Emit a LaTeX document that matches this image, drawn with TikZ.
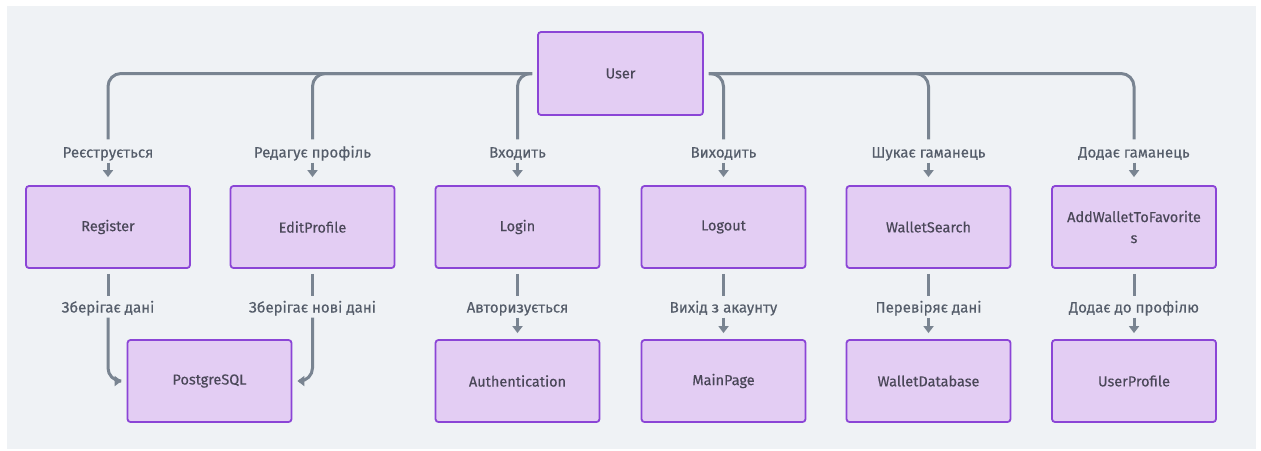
\documentclass[tikz,border=0pt]{standalone}
\usepackage{fontspec}
\setmainfont{Fira Sans}[FakeBold=0.35]
\usetikzlibrary{arrows.meta}
\definecolor{bgc}{HTML}{EFF2F5}
\definecolor{boxfill}{HTML}{E3CDF3}
\definecolor{boxline}{HTML}{8B45D6}
\definecolor{linec}{HTML}{798491}
\definecolor{boxtext}{HTML}{4A4758}
\definecolor{labtext}{HTML}{555D6A}
\tikzset{
  box/.style={draw=boxline, fill=boxfill, line width=1.8pt, rounded corners=3pt,
    minimum width=164pt, minimum height=82pt, align=center, text=boxtext,
    font=\fontsize{14.5}{21}\selectfont, inner sep=2pt},
  lab/.style={text=labtext, font=\fontsize{15}{17}\selectfont, inner ysep=0pt, inner xsep=2pt,
    text height=11pt, text depth=3pt},
  conn/.style={draw=linec, line width=3pt, rounded corners=13pt},
  arr/.style={conn, -{Triangle[width=10pt,length=7pt]}},
}
\begin{document}
\begin{tikzpicture}[x=1pt,y=-1pt]
\useasboundingbox (0,0) rectangle (1261,450);
\fill[white] (0,0) rectangle (1261,450);
\fill[bgc] (7,6) rectangle (1256,449);
% top
\node[box, minimum width=165pt, minimum height=83pt] (U) at (620.5,73.5) {User};
% row 1
\node[box] (R) at (108,227) {Register};
\node[box] (E) at (312.5,227) {EditProfile};
\node[box] (L) at (517.5,227) {Login};
\node[box] (O) at (723.5,227) {Logout};
\node[box] (W) at (928.5,227) {WalletSearch};
\node[box] (A) at (1134,227) {AddWalletToFavorite\\s};
% row 2
\node[box] (P) at (209.5,381) {PostgreSQL};
\node[box] (Au) at (517.5,381) {Authentication};
\node[box] (M) at (723.5,381) {MainPage};
\node[box] (WD) at (928.5,381) {WalletDatabase};
\node[box] (UP) at (1134,381) {UserProfile};
% labels row 1
\node[lab, anchor=base] (l1) at (108,157.5) {Реєструється};
\node[lab, anchor=base] (l2) at (312.5,157.5) {Редагує профіль};
\node[lab, anchor=base] (l3) at (517.5,157.5) {Входить};
\node[lab, anchor=base] (l4) at (723.5,157.5) {Виходить};
\node[lab, anchor=base] (l5) at (928.5,157.5) {Шукає гаманець};
\node[lab, anchor=base] (l6) at (1134,157.5) {Додає гаманець};
% labels row 2
\node[lab, anchor=base] (m1) at (108,312.5) {Зберігає дані};
\node[lab, anchor=base] (m2) at (312.5,312.5) {Зберігає нові дані};
\node[lab, anchor=base] (m3) at (517.5,312.5) {Авторизується};
\node[lab, anchor=base] (m4) at (723.5,312.5) {Вихід з акаунту};
\node[lab, anchor=base] (m5) at (928.5,312.5) {Перевіряє дані};
\node[lab, anchor=base] (m6) at (1134,312.5) {Додає до профілю};
% User to labels
\foreach \l in {l1,l2,l3}{
  \draw[conn, shorten <=5pt, shorten >=7pt] (U.west) -| (\l.north);
}
\foreach \l in {l4,l5,l6}{
  \draw[conn, shorten <=5pt, shorten >=7pt] (U.east) -| (\l.north);
}
% labels to row 1
\foreach \l/\b in {l1/R,l2/E,l3/L,l4/O,l5/W,l6/A}{
  \draw[arr, shorten <=2pt, shorten >=8pt] (\l.south) -- (\l.south |- \b.north);
}
% row 1 to labels row 2
\foreach \b/\l in {R/m1,E/m2,L/m3,O/m4,W/m5,A/m6}{
  \draw[conn, shorten <=5pt, shorten >=5pt] (\l.north |- \b.south) -- (\l.north);
}
% labels row 2 to row 2
\foreach \l/\b in {m3/Au,m4/M,m5/WD,m6/UP}{
  \draw[arr, shorten <=2pt, shorten >=6pt] (\l.south) -- (\l.south |- \b.north);
}
\draw[arr, shorten <=2pt, shorten >=5pt] (m1.south) |- (P.west);
\draw[arr, shorten <=2pt, shorten >=5pt] (m2.south) |- (P.east);
\end{tikzpicture}
\end{document}
